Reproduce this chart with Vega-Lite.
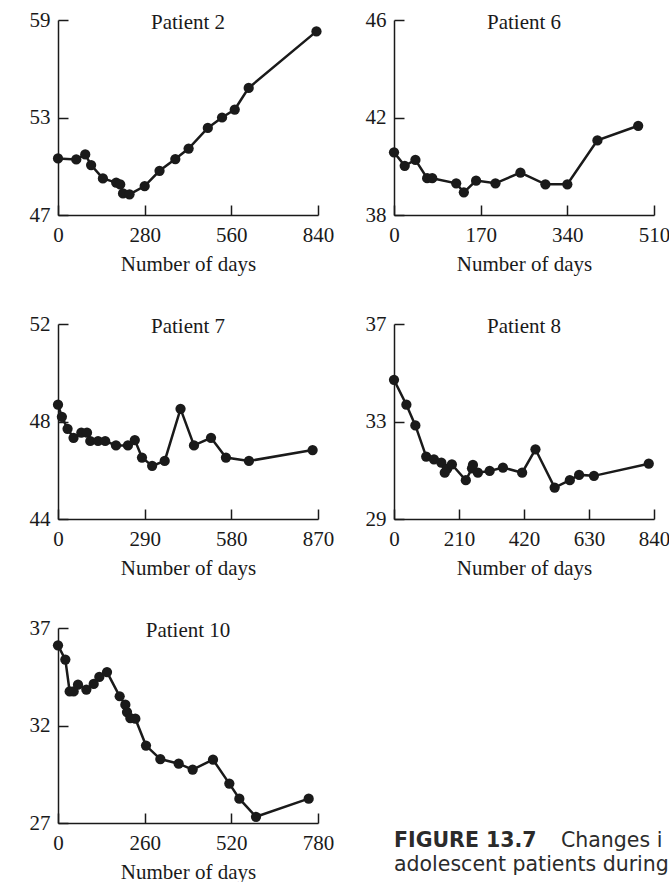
{
  "$schema": "https://vega.github.io/schema/vega-lite/v6.json",
  "padding": {"left": 29, "top": 9, "right": 0, "bottom": 0},
  "background": "white",
  "datasets": {
    "p2": [
      {"day": 0, "weight": 50.48}, {"day": 59, "weight": 50.42}, {"day": 88, "weight": 50.73},
      {"day": 107, "weight": 50.07}, {"day": 145, "weight": 49.25}, {"day": 188, "weight": 48.99},
      {"day": 201, "weight": 48.88}, {"day": 210, "weight": 48.33}, {"day": 231, "weight": 48.27},
      {"day": 280, "weight": 48.78}, {"day": 328, "weight": 49.72}, {"day": 379, "weight": 50.44},
      {"day": 422, "weight": 51.09}, {"day": 484, "weight": 52.36}, {"day": 530, "weight": 53.0},
      {"day": 571, "weight": 53.49}, {"day": 616, "weight": 54.82}, {"day": 835, "weight": 58.3}
    ],
    "p6": [
      {"day": 0, "weight": 40.57}, {"day": 21, "weight": 40.02}, {"day": 42, "weight": 40.26},
      {"day": 65, "weight": 39.51}, {"day": 75, "weight": 39.51}, {"day": 122, "weight": 39.3},
      {"day": 137, "weight": 38.93}, {"day": 161, "weight": 39.41}, {"day": 199, "weight": 39.3},
      {"day": 248, "weight": 39.74}, {"day": 297, "weight": 39.26}, {"day": 340, "weight": 39.26},
      {"day": 399, "weight": 41.06}, {"day": 479, "weight": 41.66}
    ],
    "p7": [
      {"day": 0, "weight": 48.69}, {"day": 13, "weight": 48.19}, {"day": 32, "weight": 47.7},
      {"day": 52, "weight": 47.33}, {"day": 78, "weight": 47.54}, {"day": 97, "weight": 47.54},
      {"day": 108, "weight": 47.2}, {"day": 134, "weight": 47.2}, {"day": 158, "weight": 47.2},
      {"day": 194, "weight": 47.02}, {"day": 234, "weight": 47.02}, {"day": 257, "weight": 47.24},
      {"day": 281, "weight": 46.52}, {"day": 315, "weight": 46.18}, {"day": 357, "weight": 46.38},
      {"day": 410, "weight": 48.52}, {"day": 455, "weight": 47.02}, {"day": 512, "weight": 47.33},
      {"day": 562, "weight": 46.52}, {"day": 639, "weight": 46.38}, {"day": 852, "weight": 46.83}
    ],
    "p8": [
      {"day": 0, "weight": 34.71}, {"day": 40, "weight": 33.69}, {"day": 69, "weight": 32.84},
      {"day": 104, "weight": 31.56}, {"day": 129, "weight": 31.45}, {"day": 153, "weight": 31.31},
      {"day": 164, "weight": 30.9}, {"day": 172, "weight": 31.07}, {"day": 187, "weight": 31.24},
      {"day": 232, "weight": 30.59}, {"day": 252, "weight": 31.08}, {"day": 255, "weight": 31.22},
      {"day": 271, "weight": 30.9}, {"day": 309, "weight": 30.97}, {"day": 352, "weight": 31.11},
      {"day": 414, "weight": 30.9}, {"day": 457, "weight": 31.86}, {"day": 519, "weight": 30.29},
      {"day": 568, "weight": 30.59}, {"day": 598, "weight": 30.81}, {"day": 646, "weight": 30.77},
      {"day": 823, "weight": 31.27}
    ],
    "p10": [
      {"day": 0, "weight": 36.11}, {"day": 22, "weight": 35.38}, {"day": 35, "weight": 33.75},
      {"day": 47, "weight": 33.75}, {"day": 60, "weight": 34.09}, {"day": 85, "weight": 33.84},
      {"day": 107, "weight": 34.13}, {"day": 124, "weight": 34.49}, {"day": 147, "weight": 34.74},
      {"day": 185, "weight": 33.5}, {"day": 202, "weight": 33.07}, {"day": 207, "weight": 32.69},
      {"day": 217, "weight": 32.38}, {"day": 232, "weight": 32.35}, {"day": 264, "weight": 30.97},
      {"day": 307, "weight": 30.28}, {"day": 362, "weight": 30.04}, {"day": 404, "weight": 29.74},
      {"day": 465, "weight": 30.25}, {"day": 514, "weight": 29.02}, {"day": 544, "weight": 28.25},
      {"day": 594, "weight": 27.32}, {"day": 752, "weight": 28.25}
    ],
    "caption": [
      {"line": 1, "col": "lead", "text": "FIGURE 13.7"},
      {"line": 1, "col": "indent", "text": "Changes in"},
      {"line": 2, "col": "lead", "text": "adolescent patients during"}
    ]
  },
  "columns": 2,
  "spacing": {"row": 39, "column": 31},
  "concat": [
    {
      "width": 260, "height": 195,
      "title": "Patient 2",
      "data": {"name": "p2"},
      "encoding": {
        "x": {"field": "day", "type": "quantitative", "scale": {"domain": [0, 840], "nice": false, "zero": false}, "axis": {"values": [0, 280, 560, 840], "title": "Number of days"}},
        "y": {"field": "weight", "type": "quantitative", "scale": {"domain": [47, 59], "nice": false, "zero": false}, "axis": {"values": [47, 53, 59], "title": null}}
      },
      "layer": [{"mark": {"type": "line"}}, {"mark": {"type": "point", "filled": true}}]
    },
    {
      "width": 260, "height": 195,
      "title": "Patient 6",
      "data": {"name": "p6"},
      "encoding": {
        "x": {"field": "day", "type": "quantitative", "scale": {"domain": [0, 510], "nice": false, "zero": false}, "axis": {"values": [0, 170, 340, 510], "title": "Number of days"}},
        "y": {"field": "weight", "type": "quantitative", "scale": {"domain": [38, 46], "nice": false, "zero": false}, "axis": {"values": [38, 42, 46], "title": null}}
      },
      "layer": [{"mark": {"type": "line"}}, {"mark": {"type": "point", "filled": true}}]
    },
    {
      "width": 260, "height": 195,
      "title": "Patient 7",
      "data": {"name": "p7"},
      "encoding": {
        "x": {"field": "day", "type": "quantitative", "scale": {"domain": [0, 870], "nice": false, "zero": false}, "axis": {"values": [0, 290, 580, 870], "title": "Number of days"}},
        "y": {"field": "weight", "type": "quantitative", "scale": {"domain": [44, 52], "nice": false, "zero": false}, "axis": {"values": [44, 48, 52], "title": null}}
      },
      "layer": [{"mark": {"type": "line"}}, {"mark": {"type": "point", "filled": true}}]
    },
    {
      "width": 260, "height": 195,
      "title": "Patient 8",
      "data": {"name": "p8"},
      "encoding": {
        "x": {"field": "day", "type": "quantitative", "scale": {"domain": [0, 840], "nice": false, "zero": false}, "axis": {"values": [0, 210, 420, 630, 840], "title": "Number of days"}},
        "y": {"field": "weight", "type": "quantitative", "scale": {"domain": [29, 37], "nice": false, "zero": false}, "axis": {"values": [29, 33, 37], "title": null}}
      },
      "layer": [{"mark": {"type": "line"}}, {"mark": {"type": "point", "filled": true}}]
    },
    {
      "width": 260, "height": 195,
      "title": "Patient 10",
      "data": {"name": "p10"},
      "encoding": {
        "x": {"field": "day", "type": "quantitative", "scale": {"domain": [0, 780], "nice": false, "zero": false}, "axis": {"values": [0, 260, 520, 780], "title": "Number of days"}},
        "y": {"field": "weight", "type": "quantitative", "scale": {"domain": [27, 37], "nice": false, "zero": false}, "axis": {"values": [27, 32, 37], "title": null}}
      },
      "layer": [{"mark": {"type": "line"}}, {"mark": {"type": "point", "filled": true}}]
    },
    {
      "width": 167, "height": 243,
      "data": {"name": "caption"},
      "encoding": {
        "x": {"field": "col", "type": "ordinal", "axis": null, "scale": {"type": "point", "padding": 0, "domain": ["lead", "indent"]}},
        "y": {"field": "line", "type": "ordinal", "axis": null, "scale": {"type": "point", "padding": 0, "domain": [1, 2], "range": [219, 243]}},
        "text": {"field": "text"}
      },
      "layer": [
        {"transform": [{"filter": "datum.line == 1 && datum.col == 'lead'"}], "mark": {"type": "text", "align": "left", "baseline": "alphabetic", "font": "DejaVu Sans", "fontSize": 20.5, "fontWeight": "bold", "color": "#2b2b2b"}},
        {"transform": [{"filter": "datum.line == 1 && datum.col == 'indent'"}], "mark": {"type": "text", "align": "left", "baseline": "alphabetic", "font": "DejaVu Sans", "fontSize": 20.5, "fontWeight": "normal", "color": "#2b2b2b", "limit": 109, "ellipsis": "\u200b"}},
        {"transform": [{"filter": "datum.line == 2"}], "mark": {"type": "text", "align": "left", "baseline": "alphabetic", "font": "DejaVu Sans", "fontSize": 20.5, "fontWeight": "normal", "color": "#2b2b2b", "limit": 275, "ellipsis": "\u200b"}}
      ]
    }
  ],
  "config": {
    "font": "Liberation Serif",
    "view": {"stroke": null},
    "line": {"color": "#1a1a1a", "strokeWidth": 2.5},
    "point": {"color": "#1a1a1a", "size": 105, "opacity": 1},
    "title": {"font": "Liberation Serif", "fontSize": 21, "fontWeight": "normal", "color": "#1a1a1a", "offset": -24, "anchor": "middle", "frame": "group"},
    "axis": {
      "grid": false, "domainColor": "#1a1a1a", "domainWidth": 1.5, "tickColor": "#1a1a1a", "tickWidth": 1.5, "tickSize": -10,
      "labelFont": "Liberation Serif", "labelFontSize": 21, "labelColor": "#1a1a1a", "labelFlush": false, "labelOverlap": false,
      "titleFont": "Liberation Serif", "titleFontSize": 21, "titleFontWeight": "normal", "titleColor": "#1a1a1a"
    },
    "axisX": {"labelPadding": 19, "titlePadding": 8},
    "axisY": {"labelPadding": 18}
  }
}
